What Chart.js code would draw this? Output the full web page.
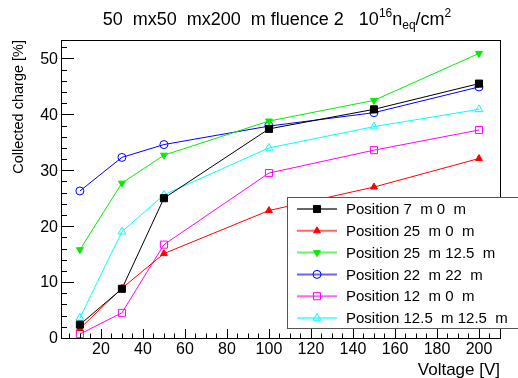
<!DOCTYPE html>
<html>
<head>
<meta charset="utf-8">
<script src="https://cdn.jsdelivr.net/npm/chart.js@4"></script>
<style>
  body { margin: 0; background: #fff; }
  canvas { display: block; }
</style>
</head>
<body>
<canvas id="chargeChart" width="518" height="378"></canvas>
<script>
// Bias voltages [V]
const voltages = [10, 30, 50, 100, 150, 200];

// Collected charge [%] per position
const pos7_0 = [2.4, 8.8, 25.0, 37.4, 40.9, 45.5];
const pos25_0 = [1.7, 8.9, 15.1, 22.8, 27.0, 32.1];
const pos25_125 = [15.8, 27.7, 32.7, 38.8, 42.5, 50.9];
const pos22_22 = [26.3, 32.3, 34.6, 37.9, 40.3, 44.9];
const pos12_0 = [0.7, 4.5, 16.7, 29.5, 33.6, 37.2];
const pos125_125 = [3.6, 19.0, 25.6, 34.0, 37.8, 40.9];

const seriesLabels = [
    "Position 7  m 0  m",
    "Position 25  m 0  m",
    "Position 25  m 12.5  m",
    "Position 22  m 22  m",
    "Position 12  m 0  m",
    "Position 12.5  m 12.5  m",
];

const xTickLabels = [20, 40, 60, 80, 100, 120, 140, 160, 180, 200];
const yTickLabels = [0, 10, 20, 30, 40, 50];

const FONT = "Liberation Sans, Arial, sans-serif";

function makeSet(label, values, color, style, rotation, filled, radius) {
    return {
        label: label,
        data: voltages.map((v, i) => ({ x: v, y: values[i] })),
        borderColor: color,
        backgroundColor: filled ? color : "rgba(0,0,0,0)",
        borderWidth: 1,
        pointStyle: style,
        pointRotation: rotation,
        pointRadius: radius,
        pointBorderWidth: 1,
        pointBorderColor: color,
        pointBackgroundColor: filled ? color : "rgba(0,0,0,0)",
        tension: 0,
        fill: false,
    };
}

// draws the ROOT-like frame, ticks, labels, title and legend
const rootFrame = {
    id: "rootFrame",
    afterDraw(chart) {
        const ctx = chart.ctx;
        const a = chart.chartArea;
        const xs = chart.scales.x;
        const ys = chart.scales.y;

        ctx.save();
        ctx.strokeStyle = "#000";
        ctx.lineWidth = 1;
        ctx.strokeRect(a.left + 0.5, a.top + 0.5, a.right - a.left, a.bottom - a.top);

        // y ticks
        ctx.beginPath();
        for (let v = 0; v <= ys.max; v += 2) {
            const y = Math.round(ys.getPixelForValue(v)) + 0.5;
            const len = v % 10 === 0 ? 13 : 6;
            ctx.moveTo(a.left, y);
            ctx.lineTo(a.left + len, y);
        }
        // x ticks
        for (let v = 5; v <= xs.max; v += 5) {
            const x = Math.round(xs.getPixelForValue(v)) + 0.5;
            const len = v % 20 === 0 ? 9 : 4.5;
            ctx.moveTo(x, a.bottom);
            ctx.lineTo(x, a.bottom - len);
        }
        ctx.stroke();

        // tick labels
        ctx.fillStyle = "#000";
        ctx.font = "16px " + FONT;
        ctx.textAlign = "right";
        ctx.textBaseline = "middle";
        yTickLabels.forEach(v => {
            ctx.fillText(String(v), a.left - 3, ys.getPixelForValue(v) + 1);
        });
        ctx.textAlign = "center";
        ctx.textBaseline = "top";
        xTickLabels.forEach(v => {
            ctx.fillText(String(v), xs.getPixelForValue(v), a.bottom + 4);
        });

        // axis titles
        ctx.font = "17px " + FONT;
        ctx.textAlign = "right";
        ctx.textBaseline = "alphabetic";
        ctx.fillText("Voltage [V]", a.right, 375);
        ctx.font = "14.5px " + FONT;
        ctx.save();
        ctx.translate(23, a.top);
        ctx.rotate(-Math.PI / 2);
        ctx.fillText("Collected charge [%]", 0, 0);
        ctx.restore();

        // title with super/subscripts
        const parts = [
            { t: "50  mx50  mx200  m fluence 2   10", s: 18, dy: 0 },
            { t: "16", s: 12, dy: -8 },
            { t: "n", s: 18, dy: 0 },
            { t: "eq", s: 12, dy: 4 },
            { t: "/cm", s: 18, dy: 0 },
            { t: "2", s: 12, dy: -8 },
        ];
        ctx.textAlign = "left";
        let total = 0;
        parts.forEach(p => {
            ctx.font = p.s + "px " + FONT;
            p.w = ctx.measureText(p.t).width;
            total += p.w;
        });
        let tx = 277 - total / 2;
        parts.forEach(p => {
            ctx.font = p.s + "px " + FONT;
            ctx.fillText(p.t, tx, 25 + p.dy);
            tx += p.w;
        });

        // legend
        const lx = 287, ly = 197, lw = 240, lh = 131;
        ctx.fillStyle = "#fff";
        ctx.fillRect(lx, ly, lw, lh);
        ctx.strokeStyle = "#555";
        ctx.strokeRect(lx + 0.5, ly + 0.5, lw, lh);
        ctx.font = "15px " + FONT;
        ctx.textBaseline = "middle";
        chart.data.datasets.forEach((ds, i) => {
            const y = 209 + i * 21.8;
            ctx.save();
            ctx.globalAlpha = 0.6;
            ctx.strokeStyle = ds.borderColor;
            ctx.lineWidth = 2;
            ctx.beginPath();
            ctx.moveTo(297, y);
            ctx.lineTo(337, y);
            ctx.stroke();
            ctx.restore();
            ctx.strokeStyle = ds.borderColor;
            ctx.fillStyle = ds.pointBackgroundColor;
            ctx.lineWidth = 1;
            Chart.helpers.drawPoint(ctx, {
                pointStyle: ds.pointStyle,
                rotation: ds.pointRotation,
                radius: ds.pointRadius,
                borderWidth: 1,
            }, 317, y);
            ctx.fillStyle = "#000";
            ctx.fillText(ds.label, 346, y + 1);
        });
        ctx.restore();
    },
};

new Chart(document.getElementById("chargeChart").getContext("2d"), {
    type: "line",
    data: {
        datasets: [
            makeSet(seriesLabels[0], pos7_0, "#000000", "rect", 0, true, 5),
            makeSet(seriesLabels[1], pos25_0, "#ff0000", "triangle", 0, true, 4),
            makeSet(seriesLabels[2], pos25_125, "#00ee00", "triangle", 180, true, 4),
            makeSet(seriesLabels[3], pos22_22, "#0000ff", "circle", 0, false, 4),
            makeSet(seriesLabels[4], pos12_0, "#ff00ff", "rect", 0, false, 5),
            makeSet(seriesLabels[5], pos125_125, "#00ffff", "triangle", 0, false, 4.5),
        ],
    },
    options: {
        responsive: false,
        animation: false,
        layout: { padding: { left: 61, top: 40, right: 18, bottom: 40 } },
        scales: {
            x: { type: "linear", min: 1, max: 210, display: false },
            y: { type: "linear", min: 0, max: 53.3, display: false },
        },
        plugins: {
            legend: { display: false },
            tooltip: { enabled: false },
        },
    },
    plugins: [rootFrame],
});
</script>
</body>
</html>
